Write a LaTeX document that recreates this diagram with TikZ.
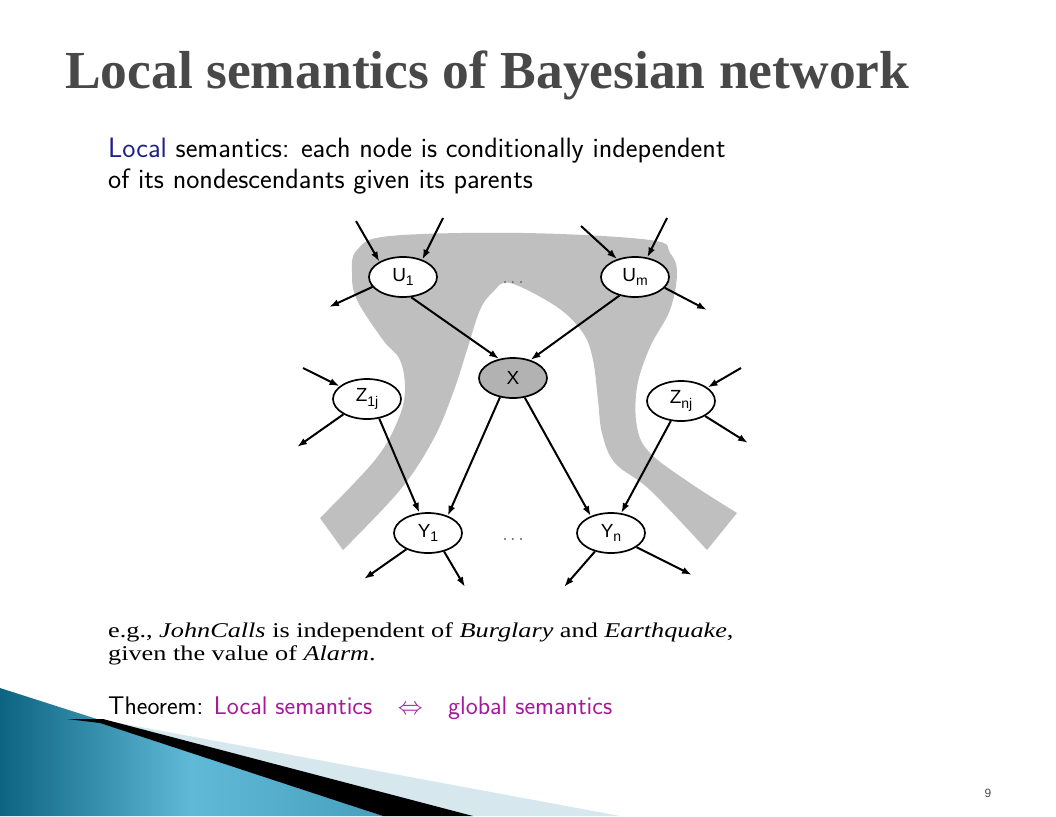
\documentclass[tikz,border=0pt]{standalone}
\usepackage{fontspec}
\setmainfont{Liberation Serif}
\newfontfamily\netfont{Liberation Sans}
\newfontfamily\examplefont[FakeStretch=1.25]{Liberation Serif}
\usetikzlibrary{arrows.meta,shapes.geometric}
\definecolor{titlegray}{RGB}{72,72,72}
\definecolor{localblue}{RGB}{30,30,140}
\definecolor{thmpurple}{RGB}{165,25,155}
\definecolor{blanket}{RGB}{191,191,191}
\definecolor{tealdark}{RGB}{12,100,130}
\definecolor{teallight}{RGB}{95,185,215}
\definecolor{stripe}{RGB}{214,231,238}
\newcommand{\nsub}[1]{\raisebox{-0.45ex}{\fontsize{14}{14}\selectfont#1}}
\tikzset{
  varnode/.style = {ellipse, draw=black, fill=white, line width=1.7pt, inner sep=0pt,
    minimum width=68pt, minimum height=40pt,
    font=\netfont\fontsize{19}{19}\selectfont},% parent, child, other
  querynode/.style = {varnode, fill=black!30},% the node X
  link/.style = {-{Latex[length=10pt, width=7pt]}, line width=2pt},
  slidetext/.style = {anchor=base west, inner sep=0pt}
}

\begin{document}
\begin{tikzpicture}[x=1pt, y=-1pt]
  \fill[white] (0,0) rectangle (1056,816);
  % corner decoration
  \shade[left color=tealdark, right color=teallight!70!tealdark, middle color=teallight]
    (0,688) -- (100,720) -- (383,816) -- (0,816) -- cycle;
  \fill[stripe] (103,720) -- (620,816) -- (473,816) -- cycle;
  \fill[black] (67,719) -- (103,719) -- (473,816) -- (383,816) -- (100,723) -- cycle;
  % title
  \node[slidetext, text=titlegray] (title) at (65,88)
    {\fontsize{53.5}{53.5}\selectfont\bfseries Local semantics of Bayesian network};
  \node[slidetext, font=\sffamily\fontsize{28}{28}\selectfont] (defa) at (108,157)
    {\textcolor{localblue}{Local} semantics: each node is conditionally independent};
  \node[slidetext, font=\sffamily\fontsize{28}{28}\selectfont] (defb) at (108,188)
    {of its nondescendants given its parents};
  % markov blanket
  \fill[blanket] plot[smooth, tension=0.6] coordinates {(320,518) (375,460) (398,420)
      (405,390) (400,360) (383,340) (357,300) (352,273) (357,250) (390,236) (523,233)
      (650,240) (670,253) (677,273) (670,310) (650,347) (637,387) (637,427) (650,453)
      (690,483) (737,513)}
    -- plot[smooth, tension=0.6] coordinates {(707,550) (650,490) (615,463) (602,433)
      (598,400) (593,360) (583,333) (557,307) (510,283) (493,292) (480,310) (467,350)
      (453,393) (433,440) (400,490) (343,550)}
    -- cycle;
  % network
  \node[varnode] (U1) at (403,277) {U\nsub{1}};
  \node[varnode] (Um) at (635,277) {U\nsub{m}};
  \node[querynode] (X) at (513,378) {X};
  \node[varnode] (Z1) at (367,399) {Z\nsub{1j}};
  \node[varnode] (Zn) at (681,401) {Z\nsub{nj}};
  \node[varnode] (Y1) at (428,533) {Y\nsub{1}};
  \node[varnode] (Yn) at (611,533) {Y\nsub{n}};
  \node[text=black!55, font=\netfont\fontsize{18}{18}\selectfont] (topdots) at (513,283) {.\,.\,.};
  \node[text=black!55, font=\netfont\fontsize{18}{18}\selectfont] (botdots) at (513,540) {.\,.\,.};
  % free ends
  \coordinate (u1a) at (356,221);
  \coordinate (u1b) at (443,218);
  \coordinate (u1c) at (329,307);
  \coordinate (uma) at (581,226);
  \coordinate (umb) at (667,218);
  \coordinate (umc) at (707,310);
  \coordinate (z1a) at (303,368);
  \coordinate (z1b) at (297,447);
  \coordinate (zna) at (741,368);
  \coordinate (znb) at (748,443);
  \coordinate (y1a) at (364,579);
  \coordinate (y1b) at (465,587);
  \coordinate (yna) at (564,587);
  \coordinate (ynb) at (692,575);
  \draw[link] (u1a) -- (U1.147);
  \draw[link] (u1b) -- (U1.42);
  \draw[link] (U1.198) -- (u1c);
  \draw[link] (uma) -- (Um.135);
  \draw[link] (umb) -- (Um.58);
  \draw[link] (Um.-20) -- (umc);
  \draw[link] (z1a) -- (Z1.155);
  \draw[link] (Z1.213) -- (z1b);
  \draw[link] (zna) -- (Zn.27);
  \draw[link] (Zn.-32) -- (znb);
  \draw[link] (Y1.217) -- (y1a);
  \draw[link] (Y1.-49) -- (y1b);
  \draw[link] (Yn.229) -- (yna);
  \draw[link] (Yn.-29) -- (ynb);
  \draw[link] (U1.-68) -- (X.126);
  \draw[link] (Um.230) -- (X.46);
  \draw[link] (X.236) -- (Y1.41);
  \draw[link] (X.-59) -- (Yn.140);
  \draw[link] (Z1.-58) -- (Y1.113);
  \draw[link] (Zn.243) -- (Yn.63);
  % example and theorem
  \node[slidetext, font=\examplefont\fontsize{21}{21}\selectfont] (exa) at (108,637)
    {e.g., \textit{JohnCalls} is independent of \textit{Burglary} and \textit{Earthquake},};
  \node[slidetext, font=\examplefont\fontsize{21}{21}\selectfont] (exb) at (108,660)
    {given the value of \textit{Alarm}.};
  \node[slidetext, font=\sffamily\fontsize{25.5}{25.5}\selectfont] (thm) at (108,714)
    {Theorem: \textcolor{thmpurple}{Local semantics\quad$\Leftrightarrow$\quad global semantics}};
  \node[text=black!70, font=\netfont\fontsize{12}{12}\selectfont] (page) at (988,793) {9};
\end{tikzpicture}
\end{document}
